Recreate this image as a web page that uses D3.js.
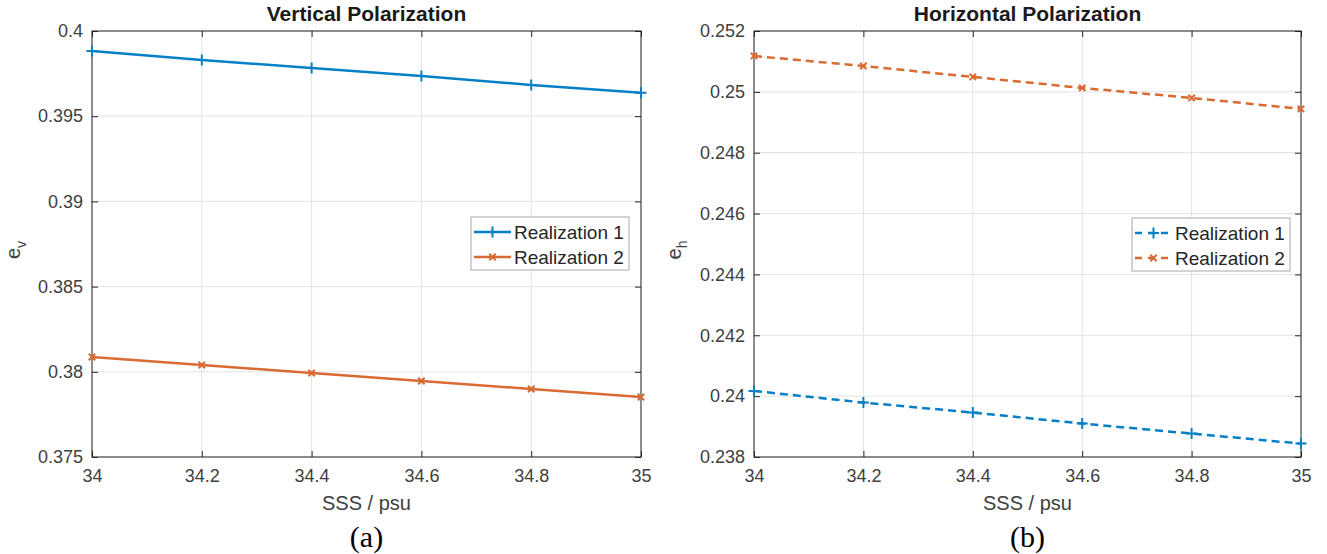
<!DOCTYPE html>
<html>
<head>
<meta charset="utf-8">
<script src="https://cdn.jsdelivr.net/npm/d3@7.9.0/dist/d3.min.js"></script>
<style>
  body { margin: 0; background: #fff; }
  svg { display: block; }
  text { font-family: "Liberation Sans", Arial, sans-serif; }
</style>
</head>
<body>
<svg id="chart" width="1327" height="554"></svg>
<script>
const sss = [34, 34.2, 34.4, 34.6, 34.8, 35];
const xTicks = [34, 34.2, 34.4, 34.6, 34.8, 35];

// vertical polarization
const ev1 = [0.39883, 0.39830, 0.39783, 0.39736, 0.39683, 0.39638];
const ev2 = [0.38087, 0.38040, 0.37993, 0.37946, 0.37899, 0.37852];
const evTicks = [0.375, 0.38, 0.385, 0.39, 0.395, 0.4];

// horizontal polarization
const eh1 = [0.24017, 0.23979, 0.23946, 0.23910, 0.23877, 0.23844];
const eh2 = [0.25118, 0.25085, 0.25049, 0.25013, 0.24980, 0.24944];
const ehTicks = [0.238, 0.24, 0.242, 0.244, 0.246, 0.248, 0.25, 0.252];

const seriesNames = ['Realization 1', 'Realization 2'];
const blue = '#0580C6', orange = '#D86A32';

const svg = d3.select('#chart');

function drawPanel(opts) {
  const { left, right, top, bottom } = opts;
  const x = d3.scaleLinear().domain([34, 35]).range([left, right]);
  const y = d3.scaleLinear().domain(opts.yDomain).range([bottom, top]);
  const g = svg.append('g');

  // grid
  g.selectAll('.gx').data(xTicks).join('line')
    .attr('x1', d => x(d)).attr('x2', d => x(d))
    .attr('y1', top).attr('y2', bottom)
    .attr('stroke', '#e3e3e3').attr('stroke-width', 1);
  g.selectAll('.gy').data(opts.yTicks).join('line')
    .attr('x1', left).attr('x2', right)
    .attr('y1', d => y(d)).attr('y2', d => y(d))
    .attr('stroke', '#e3e3e3').attr('stroke-width', 1);

  // axes (ticks inward, box on)
  const axCol = '#262626';
  g.append('g').attr('transform', `translate(0,${bottom})`)
    .call(d3.axisBottom(x).tickValues(xTicks).tickSize(-6).tickPadding(12).tickFormat(d3.format('')))
    .call(a => a.select('.domain').remove());
  g.append('g').attr('transform', `translate(0,${top})`)
    .call(d3.axisTop(x).tickValues(xTicks).tickSize(-6).tickFormat(''))
    .call(a => a.select('.domain').remove());
  g.append('g').attr('transform', `translate(${left},0)`)
    .call(d3.axisLeft(y).tickValues(opts.yTicks).tickSize(-6).tickPadding(9).tickFormat(d3.format('')))
    .call(a => a.select('.domain').remove());
  g.append('g').attr('transform', `translate(${right},0)`)
    .call(d3.axisRight(y).tickValues(opts.yTicks).tickSize(-6).tickFormat(''))
    .call(a => a.select('.domain').remove());
  g.selectAll('.tick line').attr('stroke', axCol);
  g.selectAll('.tick text').attr('fill', '#404040').style('font-size', '18px');

  g.append('rect').attr('x', left).attr('y', top)
    .attr('width', right - left).attr('height', bottom - top)
    .attr('fill', 'none').attr('stroke', axCol).attr('stroke-width', 1);

  // lines and markers
  const line = d3.line().x((d, i) => x(sss[i])).y(d => y(d));
  opts.series.forEach(s => {
    g.append('path').datum(s.values)
      .attr('d', line).attr('fill', 'none')
      .attr('stroke', s.color).attr('stroke-width', 2.5)
      .attr('stroke-dasharray', opts.dashed ? '8,5' : null);
    s.values.forEach((v, i) => drawMarker(g, s.marker, x(sss[i]), y(v), s.color));
  });

  // title and labels
  const cx = (left + right) / 2;
  g.append('text').attr('x', cx).attr('y', 21).attr('text-anchor', 'middle')
    .style('font-size', '21px').style('font-weight', 'bold').attr('fill', '#1a1a1a')
    .text(opts.title);
  g.append('text').attr('x', cx).attr('y', 510).attr('text-anchor', 'middle')
    .style('font-size', '20px').attr('fill', '#404040').text('SSS / psu');
  g.append('text').attr('x', cx).attr('y', 547).attr('text-anchor', 'middle')
    .style('font-family', '"Liberation Serif", "Times New Roman", serif')
    .style('font-size', '30px').attr('fill', '#000').text(opts.tag);

  const yl = g.append('text')
    .attr('transform', `translate(${opts.ylabX},${(top + bottom) / 2 + 6}) rotate(-90)`)
    .attr('text-anchor', 'middle').style('font-size', '20px').attr('fill', '#404040');
  yl.append('tspan').text('e');
  yl.append('tspan').attr('dy', 6).style('font-size', '14px').text(opts.sub);

  // legend
  const lg = g.append('g').attr('transform', `translate(${opts.legX},${opts.legY})`);
  lg.append('rect').attr('width', 158).attr('height', 53)
    .attr('fill', '#fff').attr('stroke', '#a8a8a8').attr('stroke-width', 1);
  opts.series.forEach((s, i) => {
    const ly = 15 + i * 25;
    lg.append('line').attr('x1', 3).attr('x2', 40).attr('y1', ly).attr('y2', ly)
      .attr('stroke', s.color).attr('stroke-width', 2.5)
      .attr('stroke-dasharray', opts.dashed ? '7,6' : null);
    drawMarker(lg, s.marker, 21.5, ly, s.color);
    lg.append('text').attr('x', 43).attr('y', ly + 7)
      .style('font-size', '19px').attr('fill', '#262626').text(seriesNames[i]);
  });
}

function drawMarker(g, type, cx, cy, color) {
  if (type === '+') {
    const r = 5.5;
    g.append('path').attr('d', `M${cx - r},${cy}H${cx + r}M${cx},${cy - r}V${cy + r}`)
      .attr('stroke', color).attr('stroke-width', 2).attr('fill', 'none');
  } else {
    const r = 3.2;
    g.append('path').attr('d', `M${cx - r},${cy - r}L${cx + r},${cy + r}M${cx - r},${cy + r}L${cx + r},${cy - r}`)
      .attr('stroke', color).attr('stroke-width', 2).attr('fill', 'none');
  }
}

drawPanel({
  left: 92, right: 641, top: 31, bottom: 457,
  yDomain: [0.375, 0.4], yTicks: evTicks,
  title: 'Vertical Polarization', tag: '(a)', sub: 'v', ylabX: 20,
  series: [
    { values: ev1, color: blue, marker: '+' },
    { values: ev2, color: orange, marker: 'x' }
  ],
  dashed: false, legX: 471, legY: 217
});

drawPanel({
  left: 754, right: 1301, top: 31, bottom: 457,
  yDomain: [0.238, 0.252], yTicks: ehTicks,
  title: 'Horizontal Polarization', tag: '(b)', sub: 'h', ylabX: 681,
  series: [
    { values: eh1, color: blue, marker: '+' },
    { values: eh2, color: orange, marker: 'x' }
  ],
  dashed: true, legX: 1132, legY: 218
});
</script>
</body>
</html>
